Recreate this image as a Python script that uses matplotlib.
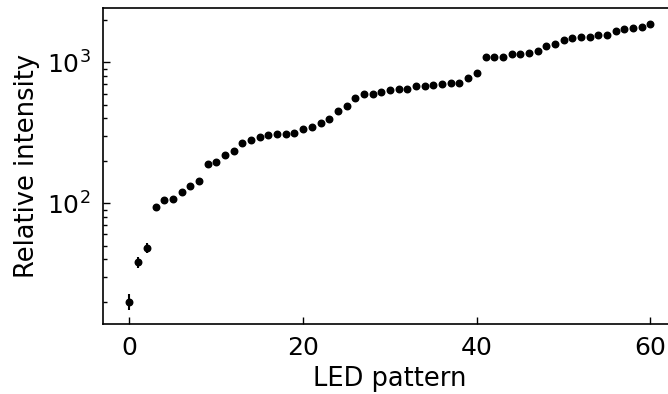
import numpy as np
import matplotlib.pyplot as plt

# measured intensity for each LED pattern
pattern = np.arange(61)
intensity = [20, 38, 48, 94, 105, 108, 120, 133, 145, 191,
             196, 220, 235, 268, 280, 294, 305, 310, 310, 317,
             338, 348, 373, 398, 454, 492, 561, 599, 599, 612,
             636, 644, 650, 676, 676, 687, 705, 716, 716, 774,
             840, 1084, 1096, 1100, 1145, 1145, 1158, 1197, 1305, 1342,
             1447, 1486, 1510, 1520, 1570, 1570, 1659, 1722, 1750, 1787,
             1861]
intensity_err = [2.6, 3.4, 4.0, 2.5, 2.5, 2.5, 2.6, 2.8, 3.0, 3.5,
                 3.5, 3.8, 4.0, 4.5, 4.5, 4.8, 5.0, 5.0, 5.0, 5.0,
                 5.2, 5.4, 5.6, 6.0, 6.5, 7.0, 7.5, 8.0, 8.0, 8.0,
                 8.5, 8.5, 8.5, 9.0, 9.0, 9.0, 9.0, 9.5, 9.5, 10.0,
                 10.0, 12.0, 12.0, 12.0, 12.0, 12.0, 12.0, 13.0, 13.0, 14.0,
                 14.0, 14.0, 15.0, 15.0, 15.0, 15.0, 16.0, 16.0, 16.0, 17.0,
                 17.0]

fig = plt.figure(figsize=(6.68, 3.94), dpi=100)
ax = fig.add_axes([0.1548, 0.1777, 0.858, 0.801])

ax.errorbar(pattern, intensity, yerr=intensity_err, fmt='o', color='black',
            markersize=4.7, elinewidth=1.5, capsize=0)
ax.set_yscale('log')
ax.set_xlim(-3, 63)
ax.set_ylim(13.9, 2415)
ax.set_xticks([0, 20, 40, 60])

ax.set_xlabel('LED pattern', fontsize=18.5, labelpad=4)
ax.set_ylabel('Relative intensity', fontsize=18.5, labelpad=5)
ax.tick_params(which='both', direction='in', labelsize=18, pad=9)
ax.tick_params(which='major', length=4.8, width=1)
ax.tick_params(which='minor', length=2.9, width=1)
for s in ax.spines.values():
    s.set_linewidth(1.2)

plt.savefig('out.png', dpi=100)
